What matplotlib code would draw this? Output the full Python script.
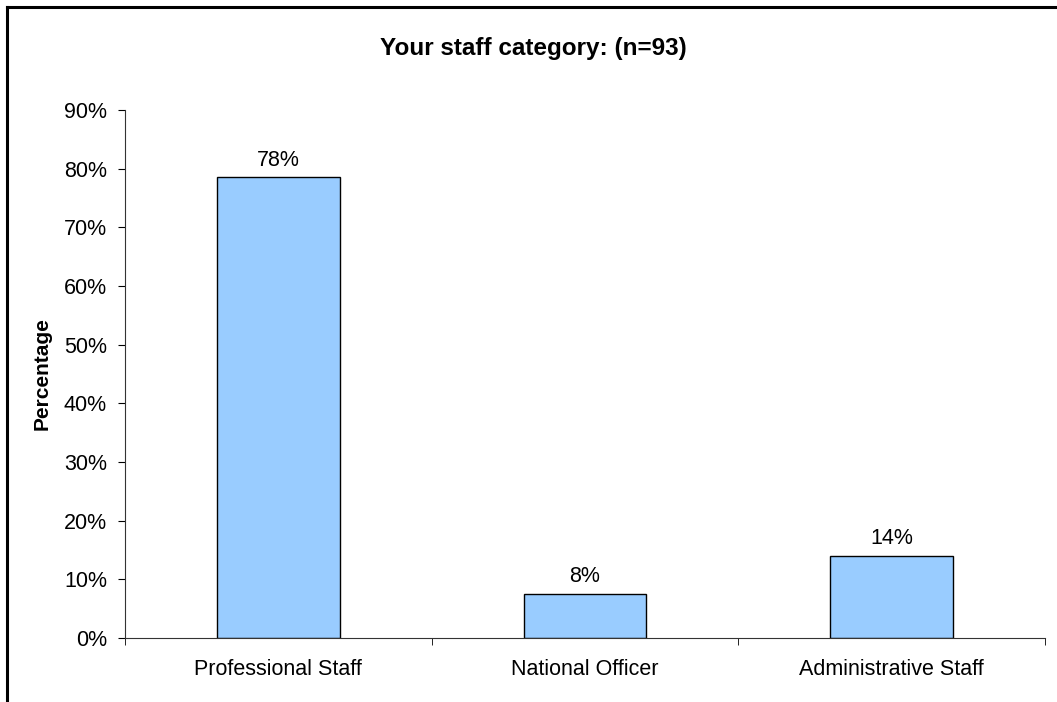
import matplotlib.pyplot as plt
from matplotlib.lines import Line2D
from matplotlib.ticker import PercentFormatter

plt.rcParams['font.family'] = ['Liberation Sans', 'DejaVu Sans']

categories = ['Professional Staff', 'National Officer', 'Administrative Staff']
counts = [73, 7, 13]
n_total = 93
shares = [c / n_total for c in counts]

W, H = 1057, 702
fig = plt.figure(figsize=(W / 100, H / 100), dpi=100)
ax = fig.add_axes([125 / W, 1 - 638 / H, (1045 - 125) / W, (638 - 110) / H])

x = range(len(categories))
bars = ax.bar(x, shares, width=0.4, color='#99CCFF', edgecolor='black', linewidth=1)
for b, s in zip(bars, shares):
    ax.annotate(f'{s:.0%}', (b.get_x() + b.get_width() / 2, s),
                xytext=(0, 5), textcoords='offset points',
                ha='center', va='bottom', fontsize=15.5)

ax.set_xlim(-0.5, len(categories) - 0.5)
ax.set_ylim(0, 0.9)
ax.set_yticks([i / 10 for i in range(10)])
ax.yaxis.set_major_formatter(PercentFormatter(1.0, decimals=0))
ax.set_xticks(list(x))
ax.set_xticklabels(categories)
ax.set_xticks([i - 0.5 for i in range(len(categories) + 1)], minor=True)
ax.tick_params(axis='x', which='major', length=0, pad=15, labelsize=15.5)
ax.tick_params(axis='x', which='minor', length=5, direction='out')
ax.tick_params(axis='y', length=5, direction='out', pad=8, labelsize=15.5)

for side in ('top', 'right'):
    ax.spines[side].set_visible(False)
for side in ('left', 'bottom'):
    ax.spines[side].set_color('#333333')

ax.set_ylabel('Percentage', fontsize=15, fontweight='bold')
ax.yaxis.set_label_coords(42 / W, 1 - 374 / H, transform=fig.transFigure)
ax.yaxis.label.set_va('center')
fig.text(533 / W, 1 - 49 / H, f'Your staff category: (n={n_total})',
         ha='center', va='center', fontsize=17.5, fontweight='bold')

# outer frame, only top and left edges fall inside the canvas
fig.add_artist(Line2D([7 / W, 7 / W], [0, 1 - 7 / H], color='black', lw=2.2,
                      transform=fig.transFigure))
fig.add_artist(Line2D([7 / W, 1], [1 - 7 / H, 1 - 7 / H], color='black', lw=2.2,
                      transform=fig.transFigure))

fig.savefig('out.png', dpi=100)
